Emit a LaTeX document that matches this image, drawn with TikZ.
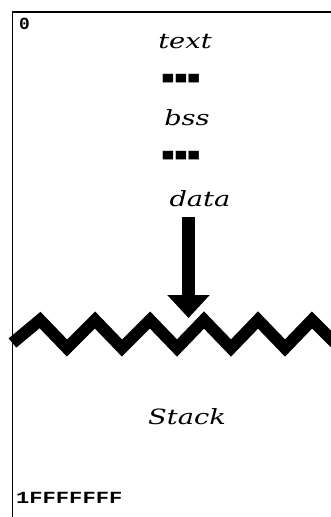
\documentclass[tikz,border=0pt]{standalone}
\usepackage{fontspec}
\usepackage{graphicx}
\usetikzlibrary{arrows.meta}
\newfontfamily\codefont{Liberation Mono}
\newfontfamily\symfont{DejaVu Sans}
\newfontfamily\segfont{DejaVu Serif}
\tikzset{
  seglabel/.style={inner sep=0pt, anchor=base, font=\fontsize{21}{24}\selectfont\segfont\itshape},
  addrlabel/.style={inner sep=0pt, anchor=base west, font=\fontsize{17}{19}\selectfont\codefont\bfseries},
  gaplabel/.style={inner sep=0pt, anchor=center, font=\fontsize{16}{17}\selectfont\symfont},
  border/.style={line width=1.8pt, black},
  wave/.style={line width=12pt, line join=miter, miter limit=10, black},
  growarrow/.style={line width=13.5pt, -{Triangle[width=41pt,length=23pt]}}
}
\begin{document}
\begin{tikzpicture}[x=1pt,y=-1pt]
\useasboundingbox (0,0) rectangle (331,517);
% frame
\coordinate (tl) at (12.5,12);
\coordinate (tr) at (331,12);
\coordinate (bl) at (12.5,517);
\draw[border] (tr) -- (tl) -- (bl);
% labels
\node[addrlabel] (zero) at (19,29) {\scalebox{1.05}[1]{0}};
\node[seglabel] (text) at (185,48) {\scalebox{1.3}[1]{text}};
\node[gaplabel] (gapa) at (181,79) {\scalebox{0.85}[0.7]{■■■}};
\node[seglabel] (bss) at (187,125) {\scalebox{1.3}[1]{bss}};
\node[gaplabel] (gapb) at (181,156) {\scalebox{0.85}[0.7]{■■■}};
\node[seglabel] (data) at (200,206) {\scalebox{1.3}[1]{data}};
\node[seglabel] (stack) at (187,424) {\scalebox{1.3}[1]{Stack}};
\node[addrlabel] (top) at (16,503) {\scalebox{1.3}[1]{1FFFFFFF}};
% zigzag boundary
\draw[wave] (12.5,343) -- (40,320) -- (67,348) -- (95,320) -- (122,348) -- (150,320)
  -- (177,348) -- (204,320) -- (231,348) -- (258,320) -- (285,348) -- (312,320) -- (335,343);
% growth arrow
\coordinate (atop) at (188.5,217);
\coordinate (atip) at (188.5,318);
\draw[growarrow] (atop) -- (atip);
\end{tikzpicture}
\end{document}
